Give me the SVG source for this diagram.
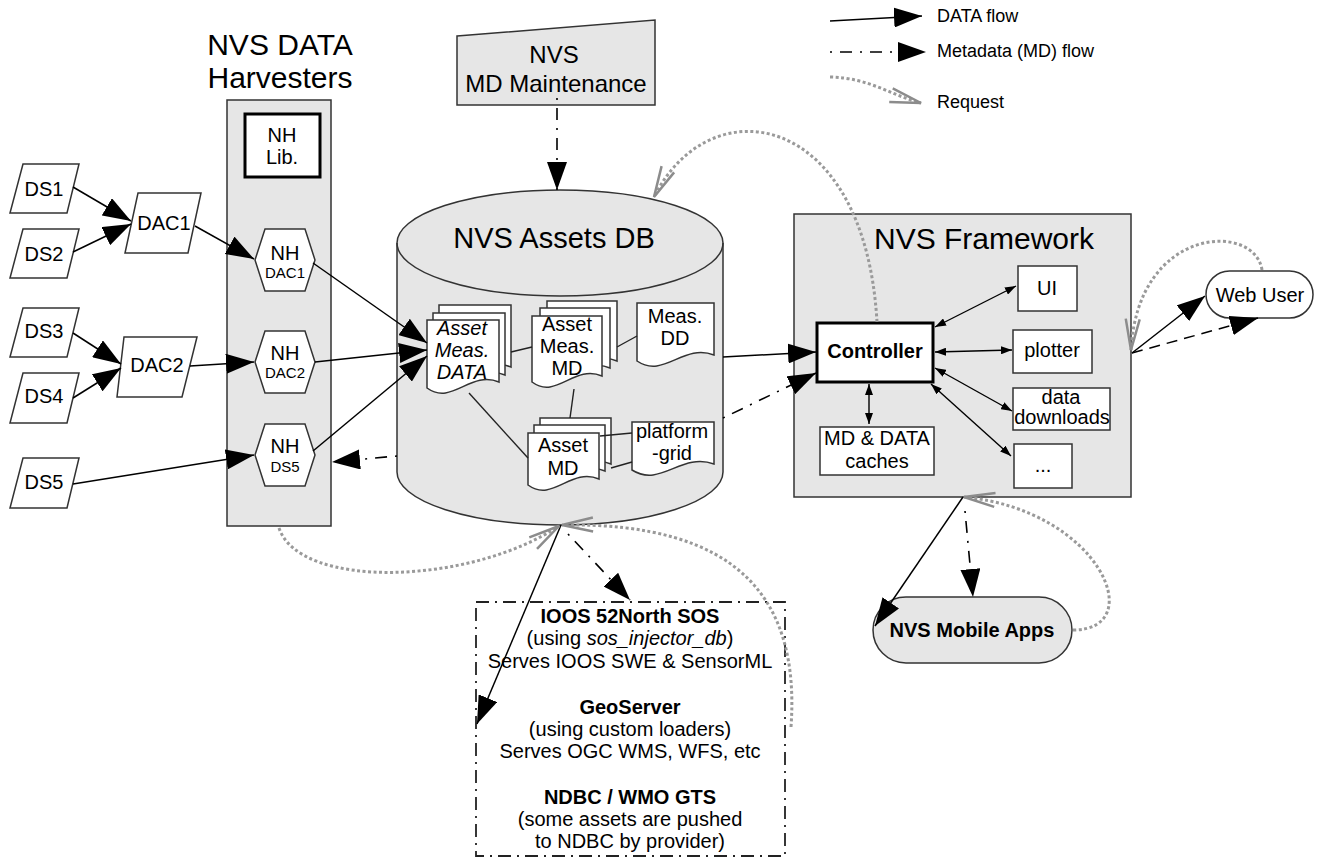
<svg xmlns="http://www.w3.org/2000/svg" width="1317" height="859" viewBox="0 0 1317 859">
<style>
text{font-family:"Liberation Sans",Arial,sans-serif;fill:#000}
.s{font-size:20px}
.c{text-anchor:middle}
.b{font-weight:bold}
.i{font-style:italic}
.gray{fill:#e6e6e6;stroke:#333;stroke-width:1.5}
.wht{fill:#fff;stroke:#333;stroke-width:1.5}
.data{fill:none;stroke:#000;stroke-width:1.5;marker-end:url(#ah)}
.md{fill:none;stroke:#000;stroke-width:1.6;stroke-dasharray:2 8 12 8;marker-end:url(#ah)}
.dash{fill:none;stroke:#000;stroke-width:1.5;stroke-dasharray:11 7;marker-end:url(#ah)}
.req{fill:none;stroke:#9a9a9a;stroke-width:3;stroke-dasharray:3 2.5;marker-end:url(#av)}
.bi{fill:none;stroke:#000;stroke-width:1.4;marker-start:url(#as);marker-end:url(#as)}
.ln{fill:none;stroke:#222;stroke-width:1.4}
</style>
<defs>
<marker id="ah" markerUnits="userSpaceOnUse" viewBox="0 0 28 20" markerWidth="28" markerHeight="20" refX="28" refY="10" orient="auto"><path d="M0,0 L28,10 L0,20 Z" fill="#000" stroke="none"/></marker>
<marker id="as" markerUnits="userSpaceOnUse" viewBox="0 0 11 8" markerWidth="11" markerHeight="8" refX="11" refY="4" orient="auto-start-reverse"><path d="M0,0 L11,4 L0,8 Z" fill="#000" stroke="none"/></marker>
<marker id="av" markerUnits="userSpaceOnUse" viewBox="0 0 34 18" markerWidth="34" markerHeight="18" refX="32" refY="9" orient="auto" overflow="visible"><path d="M1,2 L32,9 L1,16" fill="none" stroke="#8c8c8c" stroke-width="2.5" stroke-dasharray="none"/></marker>
</defs>

<g id="legend">
<path class="data" d="M830,21 L922,16"/>
<path class="md" d="M830,52 L926,52"/>
<path class="req" d="M830,77 C870,78 890,95 921,103"/>
<text x="937" y="22" font-size="18">DATA flow</text>
<text x="937" y="57" font-size="18">Metadata (MD) flow</text>
<text x="937" y="108" font-size="18">Request</text>
</g>

<g id="harvesters">
<text x="280" y="55" font-size="30" class="c">NVS DATA</text>
<text x="280" y="88" font-size="30" class="c">Harvesters</text>
<rect class="gray" x="227" y="100" width="104" height="426"/>
</g>
<g id="nh-lib">
<rect x="245" y="114" width="75" height="63" fill="#fff" stroke="#000" stroke-width="3"/>
<text x="282" y="142" class="s c">NH</text>
<text x="282" y="164" class="s c">Lib.</text>
</g>
<g id="nh-dac1">
<polygon class="wht" points="255,260 265,229 305,229 315,260 305,291 265,291"/>
<text x="285" y="260" class="s c">NH</text>
<text x="285" y="278" font-size="15" class="c">DAC1</text>
</g>
<g id="nh-dac2">
<polygon class="wht" points="255,362 265,331 305,331 315,362 305,393 265,393"/>
<text x="285" y="360" class="s c">NH</text>
<text x="285" y="378" font-size="15" class="c">DAC2</text>
</g>
<g id="nh-ds5">
<polygon class="wht" points="255,455 265,424 305,424 315,455 305,486 265,486"/>
<text x="285" y="453" class="s c">NH</text>
<text x="285" y="472" font-size="15" class="c">DS5</text>
</g>

<g id="ds1"><polygon class="wht" points="23,164 79,164 67,213 10,213"/><text x="44" y="196" class="s c">DS1</text></g>
<g id="ds2"><polygon class="wht" points="23,229 79,229 67,278 10,278"/><text x="44" y="261" class="s c">DS2</text></g>
<g id="ds3"><polygon class="wht" points="23,308 79,308 67,357 10,357"/><text x="44" y="338" class="s c">DS3</text></g>
<g id="ds4"><polygon class="wht" points="23,373 79,373 67,423 10,423"/><text x="44" y="403" class="s c">DS4</text></g>
<g id="ds5"><polygon class="wht" points="23,458 79,458 67,508 10,508"/><text x="44" y="489" class="s c">DS5</text></g>
<g id="dac1"><polygon class="wht" points="138,193 201,193 188,253 125,253"/><text x="164" y="230" class="s c">DAC1</text></g>
<g id="dac2"><polygon class="wht" points="124,337 197,337 182,397 117,397"/><text x="157" y="372" class="s c">DAC2</text></g>

<g id="md-maintenance">
<polygon class="gray" points="457,36 655,20 655,105 457,105"/>
<text x="554" y="63" font-size="24" class="c">NVS</text>
<text x="556" y="92" font-size="24" class="c">MD Maintenance</text>
</g>

<g id="assets-db">
<path class="gray" d="M397,243 A163,53 0 0 1 723,243 L723,472 A163,53 0 0 1 397,472 Z"/>
<path fill="none" stroke="#333" stroke-width="1.5" d="M397,243 A163,53 0 0 0 723,243"/>
<text x="554" y="248" font-size="29" class="c">NVS Assets DB</text>
</g>
<g id="asset-meas-data">
<path class="wht" d="M439,305 H511 V367 C482.2,355 464.2,391 439,373 Z"/>
<path class="wht" d="M433,313 H505 V375 C476.2,363 458.2,399 433,381 Z"/>
<path class="wht" d="M427,320 H499 V382 C470.2,370 452.2,406 427,388 Z"/>
<text x="462" y="335" class="s c i">Asset</text>
<text x="462" y="357" class="s c i">Meas.</text>
<text x="462" y="379" class="s c i">DATA</text>
</g>
<g id="asset-meas-md">
<path class="wht" d="M547,301 H617 V361 C589,349 571.5,385 547,367 Z"/>
<path class="wht" d="M540,308 H610 V368 C582,356 564.5,392 540,374 Z"/>
<path class="wht" d="M532,316 H602 V376 C574,364 556.5,400 532,382 Z"/>
<text x="567" y="331" class="s c">Asset</text>
<text x="567" y="353" class="s c">Meas.</text>
<text x="567" y="375" class="s c">MD</text>
</g>
<g id="meas-dd">
<path class="wht" d="M637,303 H714 V355 C683.2,343 664,379 637,361 Z"/>
<text x="675" y="323" class="s c">Meas.</text>
<text x="675" y="345" class="s c">DD</text>
</g>
<g id="asset-md">
<path class="wht" d="M540,418 H611 V464 C582.6,452 564.9,488 540,470 Z"/>
<path class="wht" d="M534,425 H605 V471 C576.6,459 558.9,495 534,477 Z"/>
<path class="wht" d="M528,433 H599 V479 C570.6,467 552.9,503 528,485 Z"/>
<text x="563" y="452" class="s c">Asset</text>
<text x="563" y="475" class="s c">MD</text>
</g>
<g id="platform-grid">
<path class="wht" d="M632,422 H714 V464 C681.2,452 660.7,488 632,470 Z"/>
<text x="672" y="438" class="s c">platform</text>
<text x="672" y="460" class="s c">-grid</text>
</g>

<g id="framework">
<rect class="gray" x="794" y="214" width="337" height="283"/>
<text x="984" y="249" font-size="30" class="c">NVS Framework</text>
</g>
<g id="controller">
<rect x="817" y="323" width="116" height="59" fill="#fff" stroke="#000" stroke-width="3"/>
<text x="875" y="358" class="s c b">Controller</text>
</g>
<g id="ui"><rect class="wht" x="1018" y="266" width="59" height="45"/><text x="1047" y="295" class="s c">UI</text></g>
<g id="plotter"><rect class="wht" x="1013" y="330" width="79" height="43"/><text x="1052" y="357" class="s c">plotter</text></g>
<g id="data-downloads"><rect class="wht" x="1013" y="388" width="97" height="42"/><text x="1061" y="404" class="s c">data</text><text x="1062" y="424" class="s c">downloads</text></g>
<g id="more"><rect class="wht" x="1014" y="444" width="58" height="44"/><text x="1043" y="472" class="s c">...</text></g>
<g id="caches"><rect class="wht" x="820" y="427" width="114" height="48"/><text x="877" y="445" class="s c">MD &amp; DATA</text><text x="877" y="468" class="s c">caches</text></g>

<g id="web-user">
<rect class="wht" x="1206" y="271" width="107" height="47" rx="23.5"/>
<text x="1260" y="302" class="s c">Web User</text>
</g>
<g id="mobile-apps">
<rect class="gray" x="873" y="597" width="199" height="66" rx="33"/>
<text x="972" y="637" class="s c b">NVS Mobile Apps</text>
</g>

<g id="services">
<rect x="476" y="602" width="309" height="254" fill="#fff" stroke="#222" stroke-width="1.8" stroke-dasharray="13 6 2 6"/>
<text x="630" y="623" font-size="20" class="c b">IOOS 52North SOS</text>
<text x="630" y="645" font-size="20" class="c">(using <tspan class="i">sos_injector_db</tspan>)</text>
<text x="630" y="668" font-size="20" class="c">Serves IOOS SWE &amp; SensorML</text>
<text x="630" y="714" font-size="20" class="c b">GeoServer</text>
<text x="630" y="736" font-size="20" class="c">(using custom loaders)</text>
<text x="630" y="758" font-size="20" class="c">Serves OGC WMS, WFS, etc</text>
<text x="630" y="804" font-size="20" class="c b">NDBC / WMO GTS</text>
<text x="630" y="826" font-size="20" class="c">(some assets are pushed</text>
<text x="630" y="848" font-size="20" class="c">to NDBC by provider)</text>
</g>

<g id="connectors">
<path class="data" d="M73,187 L131,221"/>
<path class="data" d="M73,252 L131,224"/>
<path class="data" d="M195,226 L254,259"/>
<path class="data" d="M73,333 L121,364"/>
<path class="data" d="M73,398 L121,368"/>
<path class="data" d="M190,366 L254,362"/>
<path class="data" d="M73,484 L254,455"/>
<path class="data" d="M313,263 L427,343"/>
<path class="data" d="M315,362 L427,350"/>
<path class="data" d="M313,451 L427,356"/>
<path class="md" d="M557,98 L557,190"/>
<path class="md" d="M397,456 L332,462"/>
<path class="data" d="M723,357 L816,352"/>
<path class="md" d="M723,418 L816,373"/>
<path class="data" d="M561,525 L477,724"/>
<path class="md" d="M568,534 L630,600"/>
<path class="ln" d="M511,352 L532,347"/>
<path class="ln" d="M617,347 L637,336"/>
<path class="ln" d="M574,389 L570,418"/>
<path class="ln" d="M469,393 L528,458"/>
<path class="ln" d="M600,436 L632,433"/>
<path class="ln" d="M611,468 L632,462"/>
<path class="bi" d="M935,327 L1016,286"/>
<path class="bi" d="M935,352 L1012,350"/>
<path class="bi" d="M935,368 L1012,411"/>
<path class="bi" d="M931,384 L1011,456"/>
<path class="bi" d="M869,384 L869,424"/>
<path class="data" d="M1132,353 L1205,296"/>
<path class="dash" d="M1132,353 L1258,318"/>
<path class="data" d="M963,497 L875,626"/>
<path class="md" d="M965,511 L973,597"/>
<path class="req" d="M877,322 C865,110 710,85 654,197"/>
<path class="req" d="M1262,270 C1255,222 1138,225 1131,350"/>
<path class="req" d="M1073,630 C1150,630 1100,510 964,497"/>
<path class="req" d="M279,528 C300,590 470,585 559,526"/>
<path class="req" d="M791,727 C800,600 740,522 562,525"/>
</g>
</svg>
